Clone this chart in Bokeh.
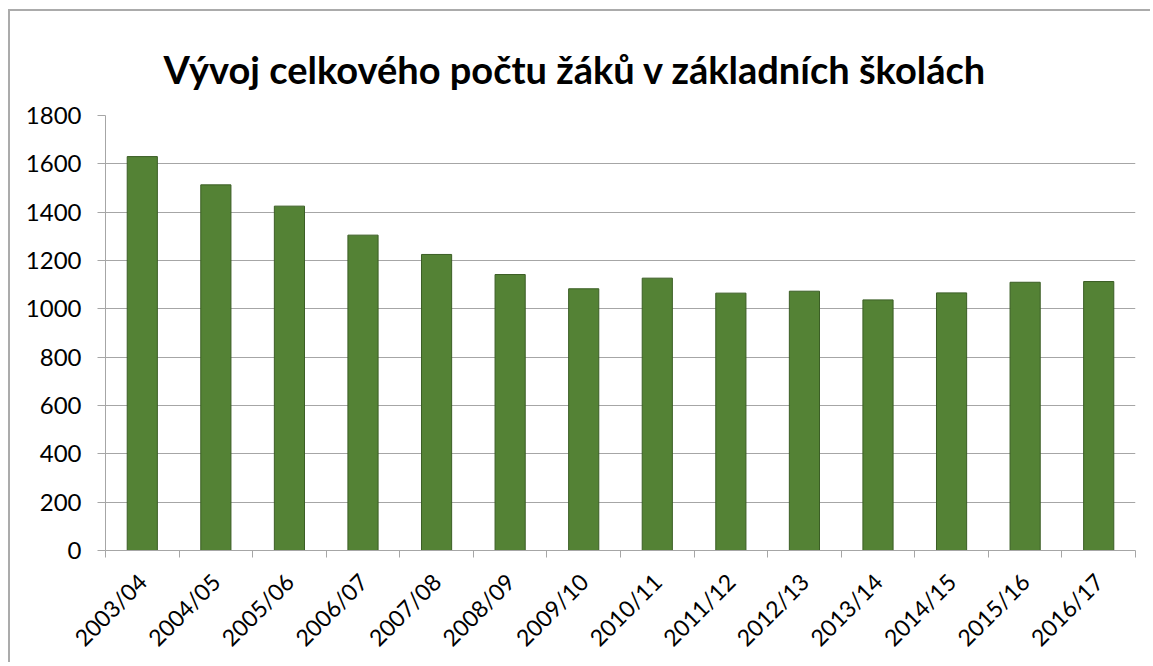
import numpy as np
from bokeh.plotting import figure
from bokeh.models import Range1d, FixedTicker
from bokeh.embed import file_html
from bokeh.resources import INLINE

title_text = "Vývoj celkového počtu žáků v základních školách"
categories = ["2003/04", "2004/05", "2005/06", "2006/07", "2007/08", "2008/09", "2009/10",
              "2010/11", "2011/12", "2012/13", "2013/14", "2014/15", "2015/16", "2016/17"]
values = [1630, 1513, 1425, 1305, 1225, 1142, 1083, 1127, 1065, 1073, 1037, 1066, 1110, 1113]
y_ticks = [0, 200, 400, 600, 800, 1000, 1200, 1400, 1600, 1800]

n = len(categories)
centers = [i + 0.5 for i in range(n)]
bounds = list(range(n + 1))

p = figure(width=1142, height=653, output_backend="svg", toolbar_location=None,
           x_range=Range1d(0, n), y_range=Range1d(0, 1800),
           min_border_left=95, min_border_right=17, min_border_top=104, min_border_bottom=113)
p.styles = {"margin-left": "8px", "margin-top": "9px",
            "border-left": "2px solid #ababab", "border-top": "2px solid #ababab"}
p.outline_line_color = None
p.background_fill_color = "white"
p.border_fill_color = "white"

p.title.text = title_text
p.title.align = "left"
p.title.vertical_align = "middle"
p.title.offset = 58
p.title.text_font = "Lato"
p.title.text_font_style = "bold"
p.title.text_font_size = "38px"
p.title.text_color = "black"
p.title.standoff = 46

p.vbar(x=centers, top=values, width=0.41, fill_color="#548235", line_color="#3b5e25", line_width=1)

grey = "#a6a6a6"
# y axis
p.yaxis.ticker = FixedTicker(ticks=y_ticks)
p.yaxis.axis_line_color = grey
p.yaxis.major_tick_line_color = grey
p.yaxis.major_tick_out = 8
p.yaxis.major_tick_in = 0
p.yaxis.minor_tick_line_color = None
p.yaxis.major_label_text_font = "Lato"
p.yaxis.major_label_text_font_size = "24px"
p.yaxis.major_label_text_color = "black"
p.yaxis.major_label_standoff = 16

# x axis
p.xaxis.ticker = FixedTicker(ticks=centers, minor_ticks=bounds)
p.xaxis.major_label_overrides = {c: lab for c, lab in zip(centers, categories)}
p.xaxis.major_label_orientation = np.pi / 4
p.xaxis.axis_line_color = grey
p.xaxis.major_tick_line_color = None
p.xaxis.minor_tick_line_color = grey
p.xaxis.minor_tick_out = 7
p.xaxis.minor_tick_in = 0
p.xaxis.major_label_text_font = "Lato"
p.xaxis.major_label_text_font_size = "23px"
p.xaxis.major_label_text_color = "black"
p.xaxis.major_label_standoff = 20

p.xgrid.grid_line_color = None
p.ygrid.ticker = FixedTicker(ticks=y_ticks)
p.ygrid.grid_line_color = grey
p.ygrid.grid_line_width = 1

open("out.html", "w").write(file_html(p, INLINE))
